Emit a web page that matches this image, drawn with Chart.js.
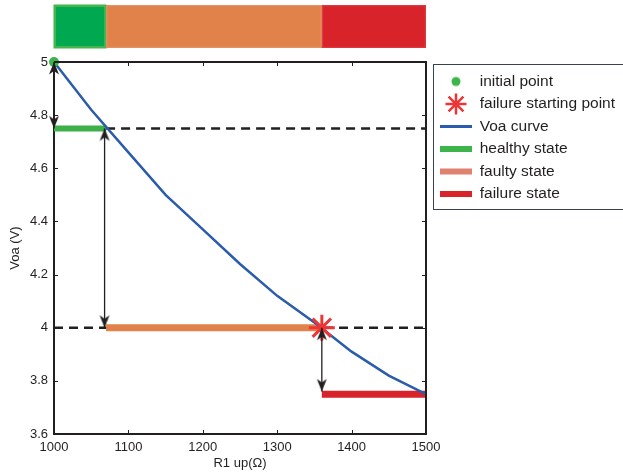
<!DOCTYPE html>
<html>
<head>
<meta charset="utf-8">
<script src="https://cdn.jsdelivr.net/npm/chart.js@4.4.1/dist/chart.umd.min.js"></script>
<style>
  html, body { margin: 0; padding: 0; background: #fff; overflow: hidden; }
  #wrap { position: relative; width: 623px; height: 474px; }
</style>
</head>
<body>
<div id="wrap"><canvas id="voaChart"></canvas></div>
<script>
// Voa curve
const rValues = [1000, 1050, 1100, 1150, 1200, 1250, 1300, 1350, 1400, 1450, 1500];
const voaValues = [5.0, 4.82, 4.66, 4.50, 4.37, 4.24, 4.12, 4.02, 3.91, 3.82, 3.75];

const xTicks = [1000, 1100, 1200, 1300, 1400, 1500];
const yTicks = [3.6, 3.8, 4, 4.2, 4.4, 4.6, 4.8, 5];
const yTickLabels = ['3.6', '3.8', '4', '4.2', '4.4', '4.6', '4.8', '5'];

// states: healthy / faulty / failure
const stateNames = ['healthy state', 'faulty state', 'failure state'];
const stateStart = [1000, 1070, 1360];
const stateEnd = [1070, 1360, 1500];
const stateLevel = [4.75, 4.0, 3.75];

// dashed threshold lines
const thresholdLevel = [4.75, 4.0];
const thresholdStart = [1070, 1000];
const thresholdEnd = [1500, 1500];

// double arrows
const arrowX = [1000, 1068, 1360];
const arrowTop = [5, 4.75, 4.0];
const arrowBottom = [4.75, 4.0, 3.76];

const initialPoint = { x: 1000, y: 5 };
const failurePoint = { x: 1360, y: 4.0 };

const stateColors = ['#3db049', '#e0824a', '#d9232b'];
const bandColors = ['#00a94f', '#e0824a', '#d9232b'];
const bandEdges = ['#45b64f', '#e5956a', '#df4046'];
const legendStateColors = ['#3db54a', '#e0826f', '#d9232b'];
const ink = '#231f20';

function makeCanvas(w, h, draw) {
    const c = document.createElement('canvas');
    c.width = w;
    c.height = h;
    draw(c.getContext('2d'));
    return c;
}

// arrowhead with its tip in the centre of the image, pointing up
const arrowHead = makeCanvas(12, 28, g => {
    g.fillStyle = ink;
    g.beginPath();
    g.moveTo(6, 14);
    g.lineTo(1, 26.5);
    g.lineTo(6, 23);
    g.lineTo(11, 26.5);
    g.closePath();
    g.fill();
});

const dotIcon = makeCanvas(12, 12, g => {
    g.fillStyle = '#3db54a';
    g.beginPath();
    g.arc(6, 6, 4.5, 0, Math.PI * 2);
    g.fill();
});

const starIcon = makeCanvas(26, 26, g => {
    g.strokeStyle = '#ee3535';
    g.lineWidth = 2.5;
    g.beginPath();
    for (let k = 0; k < 4; k++) {
        const a = k * Math.PI / 4;
        g.moveTo(13 + Math.cos(a) * 10.5, 13 + Math.sin(a) * 10.5);
        g.lineTo(13 - Math.cos(a) * 10.5, 13 - Math.sin(a) * 10.5);
    }
    g.stroke();
});

const datasets = [];

datasets.push({
    label: 'Voa curve',
    data: rValues.map((r, i) => ({ x: r, y: voaValues[i] })),
    borderColor: '#2b5cab',
    borderWidth: 2.5,
    pointRadius: 0,
    order: 2
});

stateNames.forEach((name, i) => {
    datasets.push({
        label: name,
        data: [{ x: stateStart[i], y: stateLevel[i] }, { x: stateEnd[i], y: stateLevel[i] }],
        borderColor: stateColors[i],
        borderWidth: i === 0 ? 6 : 7,
        borderCapStyle: 'butt',
        pointRadius: 0,
        clip: false,
        order: 3
    });
});

thresholdLevel.forEach((lvl, i) => {
    datasets.push({
        label: 'threshold',
        data: [{ x: thresholdStart[i], y: lvl }, { x: thresholdEnd[i], y: lvl }],
        borderColor: ink,
        borderWidth: 2.5,
        borderDash: [9, 6],
        pointRadius: 0,
        order: 4
    });
});

arrowX.forEach((ax, i) => {
    datasets.push({
        label: 'arrow',
        data: [{ x: ax, y: arrowTop[i] }, { x: ax, y: arrowBottom[i] }],
        borderColor: ink,
        borderWidth: 1.3,
        pointStyle: arrowHead,
        pointRadius: 6,
        pointRotation: [0, 180],
        clip: false,
        order: 0
    });
});

datasets.push({
    label: 'initial point',
    data: [initialPoint],
    showLine: false,
    pointStyle: 'circle',
    pointRadius: 5,
    pointBackgroundColor: '#3db54a',
    pointBorderWidth: 0,
    clip: false,
    order: 1
});

datasets.push({
    label: 'failure starting point',
    data: [failurePoint],
    showLine: false,
    pointStyle: 'star',
    pointRadius: 13,
    pointBorderColor: '#ee3535',
    pointBorderWidth: 3,
    clip: false,
    order: 1
});

const legendItems = [
    { text: 'initial point', pointStyle: dotIcon },
    { text: 'failure starting point', pointStyle: starIcon },
    { text: 'Voa curve', pointStyle: 'line', strokeStyle: '#2b5cab', lineWidth: 3 },
    ...stateNames.map((n, i) => ({ text: n, pointStyle: 'line', strokeStyle: legendStateColors[i], lineWidth: 6 }))
];

// coloured state band above the plot, placed with the x scale
const stateBand = {
    id: 'stateBand',
    afterDraw(chart) {
        const { ctx } = chart;
        const x = chart.scales.x;
        ctx.save();
        stateStart.forEach((s, i) => {
            const x0 = x.getPixelForValue(s);
            const x1 = x.getPixelForValue(stateEnd[i]);
            ctx.fillStyle = bandColors[i];
            ctx.fillRect(x0, 5, x1 - x0, 43);
            ctx.strokeStyle = bandEdges[i];
            ctx.lineWidth = i === 0 ? 2.5 : 1;
            ctx.strokeRect(x0 + 0.75, 5.75, x1 - x0 - 1.5, 41.5);
        });
        ctx.restore();
    }
};

// put the legend right of the plot
const legendPlace = {
    id: 'legendPlace',
    afterLayout(chart) {
        const lg = chart.legend;
        lg.left = chart.chartArea.right + 7;
        lg.right = chart.width + 100;
        lg.top = 66.75;
        lg.bottom = chart.height;
    }
};

// box frame, inward ticks and legend border
const frame = {
    id: 'frame',
    afterDraw(chart) {
        const { ctx, chartArea: a } = chart;
        const { x, y } = chart.scales;
        ctx.save();
        ctx.strokeStyle = ink;
        ctx.lineWidth = 1;
        ctx.beginPath();
        x.ticks.forEach(t => {
            const px = Math.round(x.getPixelForValue(t.value)) + 0.5;
            ctx.moveTo(px, a.bottom);
            ctx.lineTo(px, a.bottom - 4);
            ctx.moveTo(px, a.top);
            ctx.lineTo(px, a.top + 4);
        });
        y.ticks.forEach(t => {
            const py = Math.round(y.getPixelForValue(t.value)) + 0.5;
            ctx.moveTo(a.left, py);
            ctx.lineTo(a.left + 4, py);
            ctx.moveTo(a.right, py);
            ctx.lineTo(a.right - 4, py);
        });
        ctx.stroke();
        ctx.lineWidth = 2;
        ctx.beginPath();
        ctx.moveTo(a.left, a.top);
        ctx.lineTo(a.right, a.top);
        ctx.lineTo(a.right, a.bottom);
        ctx.stroke();
        ctx.lineWidth = 1;
        ctx.strokeStyle = '#3a4150';
        ctx.strokeRect(chart.legend.left + 0.5, 64.5, 300, 145);
        ctx.restore();
    }
};

const tickFont = { family: "'Liberation Sans', Arial, sans-serif", size: 13 };
const titleFont = { family: "'Liberation Sans', Arial, sans-serif", size: 13 };

new Chart(document.getElementById('voaChart'), {
    type: 'line',
    data: { datasets },
    options: {
        responsive: true,
        maintainAspectRatio: false,
        animation: false,
        events: [],
        layout: { padding: { top: 62, right: 197, left: 0, bottom: 0 } },
        plugins: {
            tooltip: { enabled: false },
            legend: {
                position: 'chartArea',
                align: 'start',
                labels: {
                    usePointStyle: true,
                    pointStyleWidth: 32,
                    padding: 7,
                    color: ink,
                    font: { family: "'Liberation Sans', Arial, sans-serif", size: 15.5 },
                    generateLabels: () => legendItems.map(it => Object.assign({
                        fillStyle: 'transparent',
                        strokeStyle: 'transparent',
                        lineWidth: 0,
                        lineCap: 'butt',
                        hidden: false,
                        fontColor: ink
                    }, it))
                }
            }
        },
        scales: {
            x: {
                type: 'linear',
                min: 1000,
                max: 1500,
                afterBuildTicks: s => { s.ticks = xTicks.map(v => ({ value: v })); },
                afterFit: s => { s.height = 40; },
                grid: { drawOnChartArea: false, drawTicks: false },
                border: { color: ink, width: 2 },
                ticks: {
                    padding: 6,
                    color: ink,
                    font: tickFont,
                    maxRotation: 0,
                    autoSkip: false,
                    callback: v => String(v)
                },
                title: { display: true, text: 'R1 up(Ω)', color: ink, font: titleFont, padding: { top: 0, bottom: 2.5 } }
            },
            y: {
                type: 'linear',
                min: 3.6,
                max: 5,
                afterBuildTicks: s => { s.ticks = yTicks.map(v => ({ value: v })); },
                afterFit: s => { s.width = 54; },
                grid: { drawOnChartArea: false, drawTicks: false },
                border: { color: ink, width: 2 },
                ticks: {
                    padding: 6,
                    color: ink,
                    font: tickFont,
                    autoSkip: false,
                    callback: (v, i) => yTickLabels[i]
                },
                title: { display: true, text: 'Voa (V)', color: ink, font: titleFont, padding: { top: 7.2, bottom: 0 } }
            }
        }
    },
    plugins: [stateBand, legendPlace, frame]
});
</script>
</body>
</html>
